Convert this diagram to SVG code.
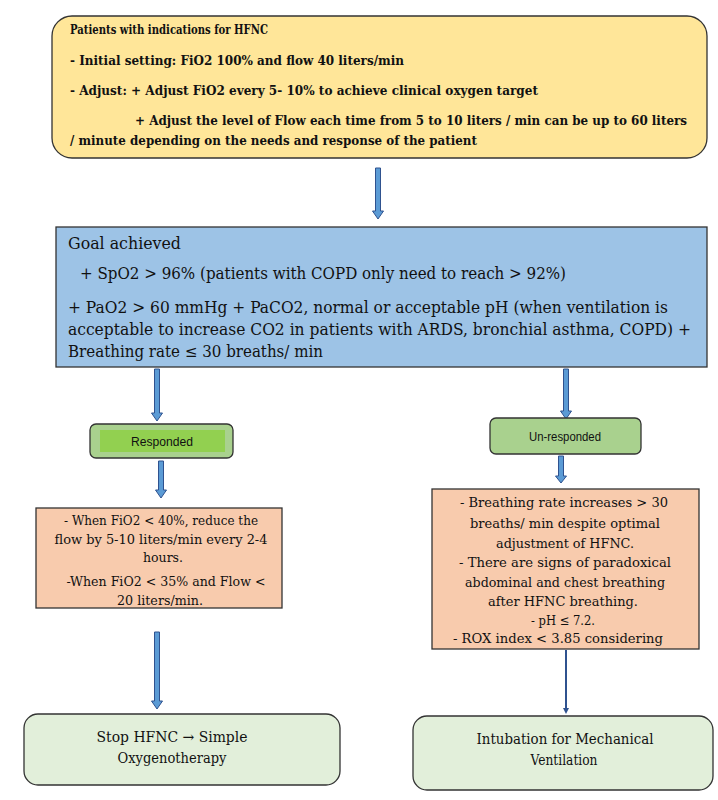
<svg xmlns="http://www.w3.org/2000/svg" width="718" height="800" viewBox="0 0 718 800">
<style>
.box{stroke:#333;stroke-width:1.3}
.arr{fill:#5B9BD5;stroke:#2F528F;stroke-width:1}
</style>
<rect width="718" height="800" fill="#fff"/>
<g id="connectors">
<path class="arr" d="M375.5,168 h5 v43 h3 l-5.5,8 l-5.5,-8 h3 z"/>
<path class="arr" d="M154.5,369 h5 v44 h3 l-5.5,8 l-5.5,-8 h3 z"/>
<path class="arr" d="M563.5,369 h5 v42 h3 l-5.5,8 l-5.5,-8 h3 z"/>
<path class="arr" d="M158.5,461 h5 v29 h3 l-5.5,8 l-5.5,-8 h3 z"/>
<path class="arr" d="M558.5,456 h5 v20 h3 l-5.5,7 l-5.5,-7 h3 z"/>
<path class="arr" d="M154.5,632 h5 v69 h3 l-5.5,8 l-5.5,-8 h3 z"/>
<path d="M566,650 V710" stroke="#2F528F" stroke-width="2" fill="none"/>
<path d="M563,708 l3,6 l3,-6 z" fill="#2F528F"/>
</g>
<g id="start" font-family="DejaVu Serif, Liberation Serif, serif" font-size="12.5" font-weight="bold" fill="#111">
<rect class="box" x="52" y="16" width="655" height="142" rx="20" fill="#FFE699"/>
<text x="70" y="34" textLength="198" lengthAdjust="spacingAndGlyphs">Patients with indications for HFNC</text>
<text x="70" y="65" textLength="334" lengthAdjust="spacingAndGlyphs">- Initial setting: FiO2 100% and flow 40 liters/min</text>
<text x="70" y="95" textLength="468" lengthAdjust="spacingAndGlyphs">- Adjust: + Adjust FiO2 every 5- 10% to achieve clinical oxygen target</text>
<text x="135" y="125" textLength="552" lengthAdjust="spacingAndGlyphs">+ Adjust the level of Flow each time from 5 to 10 liters / min can be up to 60 liters</text>
<text x="70" y="145" textLength="407" lengthAdjust="spacingAndGlyphs">/ minute depending on the needs and response of the patient</text>
</g>
<g id="goal" font-family="DejaVu Serif, Liberation Serif, serif" font-size="16" fill="#111">
<rect class="box" x="56" y="227" width="651" height="140" fill="#9DC3E6"/>
<text x="68" y="249" textLength="113" lengthAdjust="spacingAndGlyphs">Goal achieved</text>
<text x="80" y="279" textLength="486" lengthAdjust="spacingAndGlyphs">+ SpO2 &gt; 96% (patients with COPD only need to reach &gt; 92%)</text>
<text x="68" y="313" textLength="600" lengthAdjust="spacingAndGlyphs">+ PaO2 &gt; 60 mmHg + PaCO2, normal or acceptable pH (when ventilation is</text>
<text x="68" y="335" textLength="623" lengthAdjust="spacingAndGlyphs">acceptable to increase CO2 in patients with ARDS, bronchial asthma, COPD) +</text>
<text x="68" y="357" textLength="255" lengthAdjust="spacingAndGlyphs">Breathing rate ≤ 30 breaths/ min</text>
</g>
<g id="responded" font-family="Liberation Sans, DejaVu Sans, sans-serif" font-size="12" fill="#111" text-anchor="middle">
<rect class="box" x="90" y="424" width="143" height="34" rx="6" fill="#A9D18E"/>
<rect x="100" y="430" width="125" height="22" fill="#92D050"/>
<text x="162" y="446" textLength="62" lengthAdjust="spacingAndGlyphs">Responded</text>
</g>
<g id="unresponded" font-family="Liberation Sans, DejaVu Sans, sans-serif" font-size="12" fill="#111" text-anchor="middle">
<rect class="box" x="490" y="418" width="151" height="36" rx="6" fill="#A9D18E"/>
<text x="565" y="441" textLength="72" lengthAdjust="spacingAndGlyphs">Un-responded</text>
</g>
<g id="wean" font-family="DejaVu Serif, Liberation Serif, serif" font-size="13.5" fill="#111" text-anchor="middle">
<rect class="box" x="36" y="508" width="246" height="100" fill="#F8CBAD"/>
<text x="161" y="525" textLength="194" lengthAdjust="spacingAndGlyphs">- When FiO2 &lt; 40%, reduce the</text>
<text x="161" y="544" textLength="213" lengthAdjust="spacingAndGlyphs">flow by 5-10 liters/min every 2-4</text>
<text x="163" y="562" textLength="40" lengthAdjust="spacingAndGlyphs">hours.</text>
<text x="166" y="586" textLength="199" lengthAdjust="spacingAndGlyphs">-When FiO2 &lt; 35% and Flow &lt;</text>
<text x="160" y="605" textLength="86" lengthAdjust="spacingAndGlyphs">20 liters/min.</text>
</g>
<g id="failure" font-family="DejaVu Serif, Liberation Serif, serif" font-size="13.5" fill="#111" text-anchor="middle">
<rect class="box" x="432" y="489" width="267" height="160" fill="#F8CBAD"/>
<text x="564" y="507" textLength="208" lengthAdjust="spacingAndGlyphs">- Breathing rate increases &gt; 30</text>
<text x="565" y="528" textLength="190" lengthAdjust="spacingAndGlyphs">breaths/ min despite optimal</text>
<text x="565" y="548" textLength="138" lengthAdjust="spacingAndGlyphs">adjustment of HFNC.</text>
<text x="565" y="567" textLength="212" lengthAdjust="spacingAndGlyphs">- There are signs of paradoxical</text>
<text x="565" y="587" textLength="200" lengthAdjust="spacingAndGlyphs">abdominal and chest breathing</text>
<text x="563" y="606" textLength="150" lengthAdjust="spacingAndGlyphs">after HFNC breathing.</text>
<text x="563" y="625" textLength="64" lengthAdjust="spacingAndGlyphs">- pH ≤ 7.2.</text>
<text x="558" y="643" textLength="210" lengthAdjust="spacingAndGlyphs">- ROX index &lt; 3.85 considering</text>
</g>
<g id="stop" font-family="DejaVu Serif, Liberation Serif, serif" font-size="15" fill="#111" text-anchor="middle">
<rect class="box" x="24" y="714" width="316" height="71" rx="14" fill="#E2EFDA"/>
<text x="172" y="742" textLength="151" lengthAdjust="spacingAndGlyphs">Stop HFNC → Simple</text>
<text x="172" y="763" textLength="109" lengthAdjust="spacingAndGlyphs">Oxygenotherapy</text>
</g>
<g id="intubation" font-family="DejaVu Serif, Liberation Serif, serif" font-size="15" fill="#111" text-anchor="middle">
<rect class="box" x="413" y="716" width="300" height="74" rx="14" fill="#E2EFDA"/>
<text x="565" y="744" textLength="177" lengthAdjust="spacingAndGlyphs">Intubation for Mechanical</text>
<text x="564" y="765" textLength="67" lengthAdjust="spacingAndGlyphs">Ventilation</text>
</g>
</svg>
